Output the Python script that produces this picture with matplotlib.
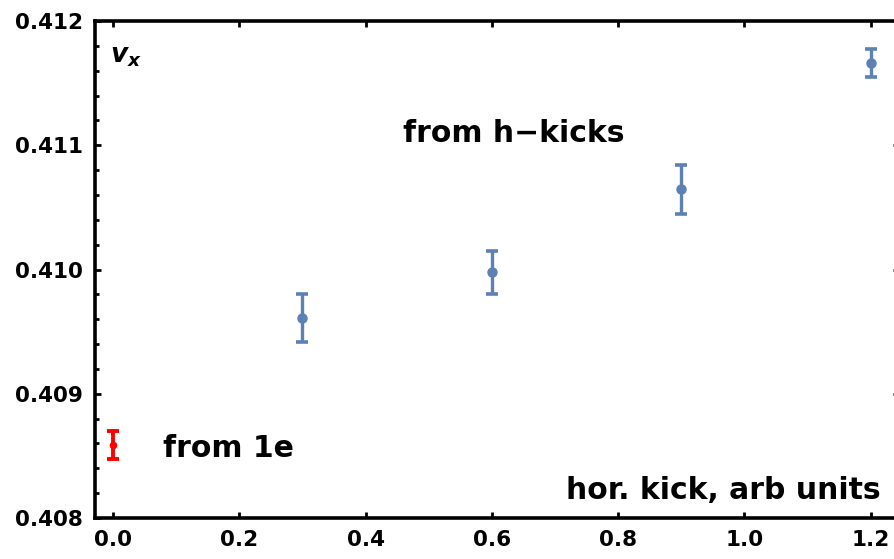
import matplotlib

matplotlib.use("Agg")

import matplotlib.pyplot as plt
from matplotlib.ticker import MultipleLocator

# kick strength (arb units) and measured tune with error
kick_h = [0.3, 0.6, 0.9, 1.2]
tune_h = [0.409607, 0.409977, 0.410645, 0.411660]
err_h = [0.000193, 0.000173, 0.000199, 0.000114]

kick_1e = [0.0]
tune_1e = [0.408590]
err_1e = [0.000113]

x_ticks = [0.0, 0.2, 0.4, 0.6, 0.8, 1.0, 1.2]
y_ticks = [0.408, 0.409, 0.410, 0.411, 0.412]

BLUE = "#5e81b5"
RED = "#ff0000"

plt.rcParams["font.family"] = "DejaVu Sans"
plt.rcParams["font.weight"] = "bold"
plt.rcParams["mathtext.fontset"] = "custom"
plt.rcParams["mathtext.it"] = "DejaVu Sans:italic:bold"
plt.rcParams["mathtext.rm"] = "DejaVu Sans:bold"

fig = plt.figure(figsize=(8.94, 5.59), dpi=100)
ax = fig.add_axes([95 / 894, 41 / 559, 804 / 894, 497 / 559])

ax.errorbar(kick_h, tune_h, yerr=err_h, fmt="o", color=BLUE, ms=6.5,
            elinewidth=2.4, capsize=4.3, capthick=2.6, zorder=3)
ax.errorbar(kick_1e, tune_1e, yerr=err_1e, fmt="o", color=RED, ms=4.5,
            elinewidth=2.8, capsize=4.3, capthick=2.8, zorder=3)

ax.set_xlim(-0.0285, 1.245)
ax.set_ylim(0.408, 0.412)
ax.set_xticks(x_ticks)
ax.set_yticks(y_ticks)
ax.xaxis.set_major_formatter(plt.FuncFormatter(lambda v, p: f"{v:.1f}"))
ax.yaxis.set_major_formatter(plt.FuncFormatter(lambda v, p: f"{v:.3f}"))
ax.yaxis.set_minor_locator(MultipleLocator(0.0002))

for s in ax.spines.values():
    s.set_linewidth(2.6)
ax.tick_params(which="both", direction="in", top=True, right=True, width=2)
ax.tick_params(which="major", length=4, labelsize=15.5, pad=9)
ax.tick_params(which="minor", length=3)
for lab in ax.get_xticklabels() + ax.get_yticklabels():
    lab.set_fontweight("bold")

ax.text(-0.0048, 0.41167, r"$v_x$", fontsize=19, va="baseline", ha="left")
ax.text(0.4596, 0.411029, "from h\u2212kicks", fontsize=21.5,
        fontweight="bold", va="baseline", ha="left")
ax.text(0.0792, 0.408491, "from 1e", fontsize=21.5,
        fontweight="bold", va="baseline", ha="left")
ax.text(1.2155, 0.408153, "hor. kick, arb units", fontsize=21.5,
        fontweight="bold", va="baseline", ha="right")

fig.savefig("out.png", dpi=100)
